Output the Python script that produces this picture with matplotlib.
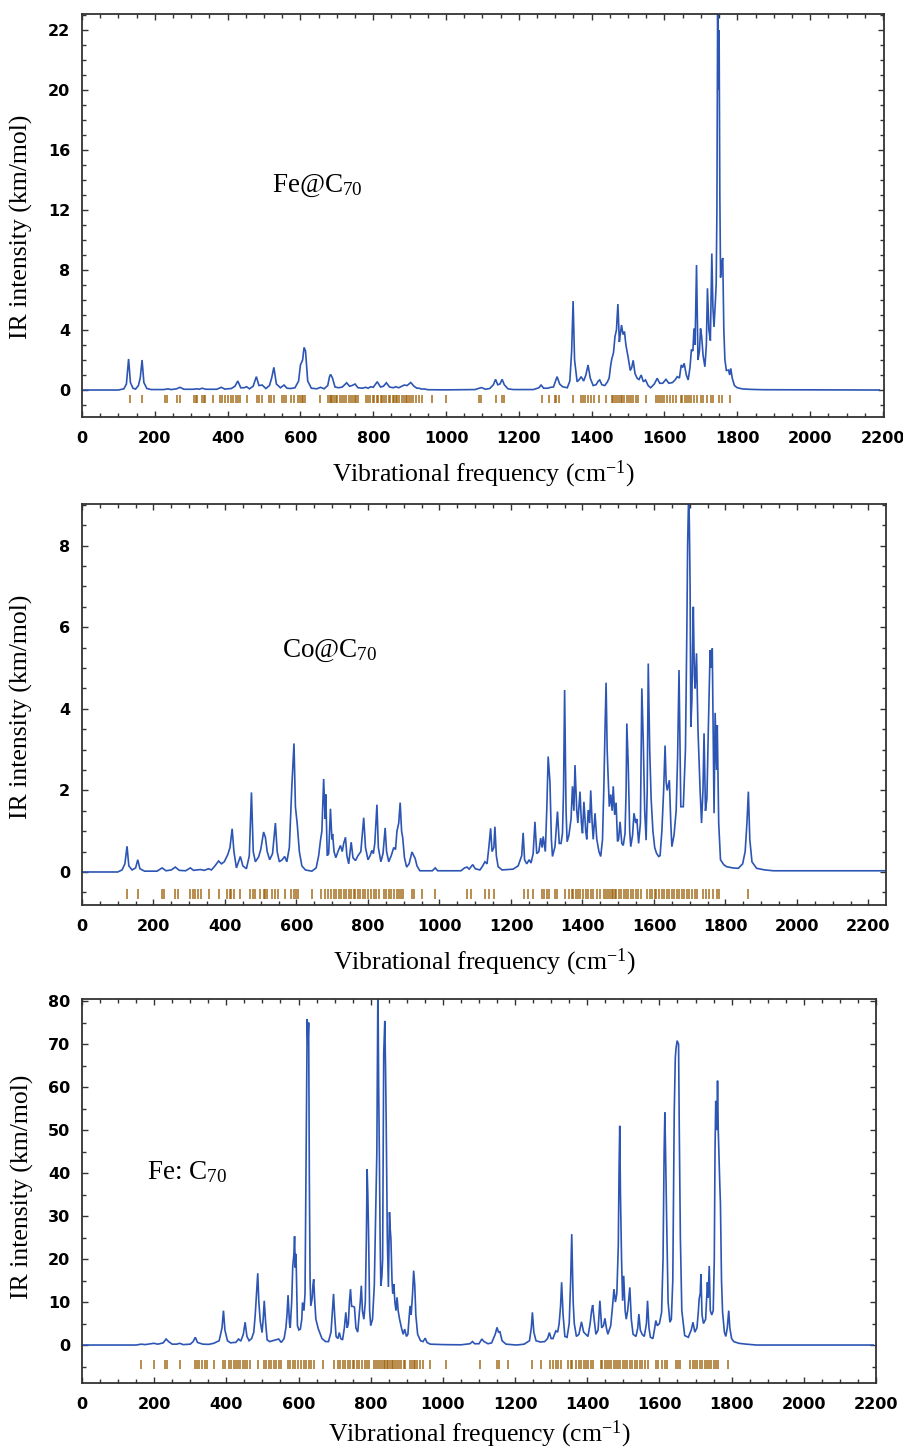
import matplotlib
matplotlib.use("Agg")
import matplotlib.pyplot as plt
from matplotlib.ticker import MultipleLocator, FixedLocator, FixedFormatter

plt.rcParams["mathtext.fontset"] = "custom"
plt.rcParams["mathtext.rm"] = "Liberation Serif"
plt.rcParams["mathtext.it"] = "Liberation Serif:italic"

# ---------- Fe@C70 : spectrum ----------
fe_freq = [0, 100, 115, 122, 128, 133, 140, 147, 155, 160, 165, 170, 178, 190, 225, 236, 245,
           260, 269, 280, 305, 316, 322, 330, 340, 370, 383, 392, 410, 420, 428, 436, 445, 452,
           460, 470, 479, 486, 495, 505, 515, 521, 527, 534, 545, 555, 563, 573, 585, 595, 600,
           606, 610, 614, 620, 630, 645, 655, 665, 675, 680, 683, 688, 695, 705, 715, 727, 735,
           742, 750, 758, 770, 779, 786, 793, 800, 811, 820, 828, 836, 845, 855, 862, 870, 878,
           885, 893, 903, 912, 920, 926, 933, 940, 950, 1000, 1080, 1091, 1098, 1108, 1120, 1130,
           1136, 1142, 1148, 1154, 1160, 1170, 1185, 1240, 1255, 1261, 1268, 1280, 1287, 1295,
           1305, 1312, 1320, 1333, 1340, 1345, 1349, 1353, 1360, 1366, 1371, 1378, 1384, 1390,
           1396, 1404, 1412, 1418, 1422, 1428, 1436, 1443, 1448, 1452, 1455, 1460, 1464, 1468,
           1472, 1476, 1479, 1482, 1486, 1490, 1494, 1500, 1506, 1510, 1514, 1519, 1525, 1530,
           1536, 1542, 1548, 1555, 1562, 1572, 1580, 1587, 1595, 1604, 1612, 1622, 1630, 1635,
           1641, 1646, 1650, 1654, 1660, 1665, 1670, 1674, 1678, 1681, 1684, 1688, 1692, 1696,
           1699, 1702, 1706, 1711, 1715, 1718, 1722, 1726, 1730, 1733, 1736, 1740, 1742, 1744,
           1746, 1748, 1750, 1752, 1754, 1757, 1760, 1763, 1766, 1770, 1776, 1779, 1782, 1786,
           1792, 1800, 1815, 1840, 1870, 2190]
fe_int = [0, 0, 0.08, 0.4, 2.07, 0.5, 0.12, 0.06, 0.3, 0.8, 2.0, 0.5, 0.1, 0.03, 0.03, 0.08, 0.03,
          0.08, 0.18, 0.05, 0.05, 0.08, 0.05, 0.12, 0.05, 0.05, 0.18, 0.06, 0.1, 0.25, 0.6, 0.15,
          0.15, 0.22, 0.08, 0.25, 0.89, 0.3, 0.33, 0.1, 0.3, 0.8, 1.51, 0.4, 0.15, 0.33, 0.12, 0.1,
          0.15, 0.6, 1.67, 2.0, 2.84, 2.6, 0.6, 0.12, 0.08, 0.18, 0.08, 0.3, 0.9, 1.04, 0.8, 0.2,
          0.15, 0.2, 0.48, 0.25, 0.3, 0.4, 0.15, 0.12, 0.18, 0.12, 0.22, 0.18, 0.55, 0.2, 0.25,
          0.48, 0.2, 0.15, 0.22, 0.15, 0.25, 0.33, 0.3, 0.5, 0.25, 0.12, 0.12, 0.06, 0.07, 0.02,
          0.01, 0.03, 0.12, 0.16, 0.05, 0.1, 0.35, 0.71, 0.35, 0.4, 0.71, 0.35, 0.08, 0.03, 0.03,
          0.15, 0.33, 0.12, 0.12, 0.18, 0.2, 0.89, 0.4, 0.22, 0.15, 0.6, 2.6, 5.93, 2.0, 0.55, 0.7,
          0.89, 0.6, 1.0, 1.67, 0.8, 0.3, 0.35, 0.6, 0.67, 0.35, 0.3, 0.53, 0.8, 1.6, 2.04, 2.5,
          3.56, 4.0, 5.73, 3.2, 3.8, 4.33, 3.7, 3.9, 3.0, 2.2, 1.3, 1.5, 1.98, 1.1, 0.78, 0.7, 1.0,
          0.55, 0.67, 0.3, 0.15, 0.4, 0.78, 0.45, 0.45, 0.71, 0.45, 0.5, 0.7, 0.89, 0.8, 1.67, 1.5,
          1.78, 1.0, 0.67, 1.5, 2.7, 2.6, 4.1, 3.0, 8.33, 2.0, 2.6, 4.1, 3.6, 2.3, 1.55, 3.0, 6.78,
          4.0, 3.3, 9.1, 5.5, 4.2, 6.0, 7.1, 12.0, 25.3, 20.0, 24.0, 13.0, 7.5, 8.5, 8.8, 4.0, 2.0,
          1.3, 1.33, 1.0, 1.44, 0.8, 0.3, 0.15, 0.07, 0.04, 0.02, 0.0]
fe_sticks = [131, 165, 229, 234, 261, 268, 307, 312, 316, 330, 335, 339, 359, 380, 385, 394, 402,
             408, 414, 422, 429, 433, 452, 481, 486, 495, 513, 518, 527, 550, 555, 559, 573, 582,
             594, 598, 603, 608, 612, 654, 677, 680, 684, 688, 692, 697, 701, 708, 713, 720, 726,
             733, 738, 744, 750, 754, 759, 779, 785, 790, 798, 802, 809, 814, 820, 825, 830, 836,
             842, 846, 853, 857, 862, 866, 871, 878, 885, 889, 894, 898, 903, 908, 917, 926, 935,
             962, 999, 1090, 1096, 1136, 1154, 1159, 1264, 1282, 1298, 1303, 1310, 1349, 1371,
             1377, 1383, 1390, 1397, 1406, 1420, 1438, 1455, 1459, 1464, 1470, 1475, 1480, 1484,
             1489, 1496, 1502, 1509, 1514, 1521, 1527, 1550, 1576, 1582, 1588, 1594, 1600, 1608,
             1615, 1622, 1631, 1645, 1649, 1656, 1661, 1667, 1674, 1681, 1690, 1699, 1707, 1718,
             1727, 1734, 1750, 1759, 1780]

# ---------- Co@C70 ----------
co_freq = [0, 100, 112, 120, 126, 131, 140, 150, 156, 162, 175, 210, 224, 235, 250, 261, 272, 290,
           303, 312, 331, 342, 354, 362, 372, 382, 390, 398, 408, 414, 420, 425, 432, 443, 450, 460,
           468, 474, 479, 485, 494, 500, 508, 513, 518, 525, 533, 541, 546, 552, 560, 567, 573, 580,
           587, 593, 597, 602, 608, 615, 625, 643, 655, 662, 667, 671, 676, 680, 682, 686, 690, 695,
           699, 701, 705, 710, 716, 723, 728, 732, 737, 741, 746, 753, 758, 765, 772, 780, 788, 793,
           800, 806, 811, 815, 819, 825, 829, 836, 842, 848, 852, 858, 865, 872, 877, 881, 886, 890,
           894, 897, 902, 908, 915, 923, 928, 932, 937, 945, 980, 988, 995, 1060, 1070, 1077, 1083,
           1093, 1100, 1113, 1121, 1127, 1133, 1138, 1143, 1147, 1152, 1155, 1159, 1164, 1175,
           1206, 1220, 1230, 1234, 1238, 1244, 1251, 1256, 1262, 1267, 1272, 1278, 1283, 1287,
           1290, 1296, 1300, 1304, 1309, 1313, 1316, 1323, 1330, 1335, 1340, 1344, 1347, 1350,
           1354, 1357, 1362, 1368, 1372, 1376, 1379, 1384, 1387, 1393, 1397, 1400, 1404, 1409,
           1412, 1416, 1420, 1423, 1427, 1430, 1435, 1440, 1446, 1451, 1456, 1460, 1463, 1466,
           1469, 1471, 1475, 1479, 1483, 1486, 1490, 1494, 1498, 1501, 1505, 1510, 1514, 1519,
           1522, 1524, 1528, 1532, 1535, 1540, 1544, 1549, 1552, 1557, 1562, 1566, 1570, 1574,
           1578, 1581, 1584, 1588, 1592, 1597, 1602, 1607, 1613, 1617, 1622, 1627, 1631, 1634,
           1637, 1643, 1647, 1650, 1656, 1662, 1666, 1670, 1675, 1682, 1688, 1692, 1694, 1697,
           1699, 1701, 1703, 1706, 1708, 1710, 1713, 1715, 1719, 1723, 1729, 1733, 1737, 1740,
           1744, 1748, 1752, 1757, 1760, 1763, 1766, 1768, 1771, 1775, 1777, 1781, 1786, 1795,
           1803, 1820, 1836, 1848, 1855, 1860, 1864, 1868, 1874, 1887, 1910, 1934, 2250]
co_int = [0, 0, 0.05, 0.2, 0.63, 0.15, 0.05, 0.1, 0.3, 0.08, 0.02, 0.02, 0.1, 0.03, 0.05, 0.12,
          0.04, 0.03, 0.1, 0.04, 0.06, 0.04, 0.08, 0.05, 0.15, 0.27, 0.2, 0.25, 0.43, 0.6, 1.06,
          0.5, 0.1, 0.38, 0.15, 0.08, 0.4, 1.95, 0.5, 0.25, 0.37, 0.55, 0.98, 0.85, 0.5, 0.3, 0.45,
          1.2, 0.5, 0.25, 0.3, 0.38, 0.25, 0.6, 2.1, 3.15, 1.6, 1.18, 0.5, 0.15, 0.05, 0.02, 0.1,
          0.4, 0.77, 1.0, 2.28, 1.3, 1.9, 0.4, 0.45, 1.55, 0.8, 0.93, 0.5, 0.35, 0.5, 0.65, 0.5,
          0.7, 0.85, 0.4, 0.2, 0.73, 0.35, 0.28, 0.4, 0.5, 1.33, 0.6, 0.3, 0.4, 0.53, 0.45, 0.7,
          1.65, 0.6, 0.25, 0.45, 1.08, 0.5, 0.25, 0.4, 0.6, 0.55, 1.0, 1.2, 1.7, 1.0, 0.85, 0.35,
          0.12, 0.2, 0.49, 0.4, 0.33, 0.15, 0.03, 0.03, 0.1, 0.03, 0.03, 0.1, 0.12, 0.07, 0.18,
          0.08, 0.05, 0.15, 0.25, 0.2, 0.6, 1.07, 0.5, 0.6, 1.11, 0.4, 0.13, 0.05, 0.07, 0.15, 0.4,
          0.96, 0.3, 0.2, 0.3, 0.22, 0.45, 1.23, 0.45, 0.5, 0.83, 0.6, 0.87, 0.5, 1.5, 2.83, 2.2,
          0.8, 0.38, 0.62, 1.48, 0.7, 0.7, 0.95, 2.0, 4.46, 1.5, 0.74, 0.9, 1.3, 2.1, 1.5, 2.62,
          1.5, 1.2, 1.97, 1.2, 0.95, 1.72, 1.0, 0.8, 1.52, 1.2, 2.0, 1.2, 0.8, 1.44, 0.8, 0.5, 0.38,
          0.8, 2.17, 3.5, 4.64, 3.0, 2.5, 1.6, 1.9, 1.5, 2.1, 1.4, 1.7, 0.75, 0.8, 1.23, 0.7, 0.65,
          0.95, 2.0, 3.64, 2.6, 1.0, 0.62, 0.9, 1.44, 1.2, 1.3, 0.7, 1.2, 4.5, 3.2, 1.5, 0.78, 2.0,
          5.11, 3.0, 1.8, 1.0, 0.6, 0.46, 0.38, 0.4, 1.0, 2.0, 3.1, 2.2, 2.0, 2.25, 1.2, 0.62, 0.9,
          1.5, 2.8, 4.95, 1.6, 1.6, 3.0, 6.0, 7.97, 9.3, 8.5, 7.0, 3.56, 4.2, 5.5, 6.5, 4.8, 4.5,
          5.36, 3.5, 2.0, 1.2, 2.0, 3.4, 1.5, 1.8, 3.5, 5.44, 5.0, 5.48, 3.0, 1.44, 3.9, 2.5, 3.6,
          1.2, 0.3, 0.18, 0.13, 0.1, 0.09, 0.2, 0.5, 1.2, 1.97, 0.8, 0.25, 0.09, 0.05, 0.03, 0.03]
co_sticks = [126, 156, 224, 230, 259, 268, 303, 310, 317, 324, 332, 354, 382, 407, 413, 418, 424,
             443, 471, 477, 485, 499, 508, 513, 517, 531, 541, 548, 567, 585, 592, 599, 604, 643,
             669, 679, 688, 697, 704, 710, 718, 725, 732, 738, 746, 753, 760, 764, 772, 778, 785,
             791, 800, 809, 816, 822, 830, 844, 850, 858, 865, 872, 881, 888, 893, 898, 923, 930,
             951, 988, 1077, 1089, 1127, 1139, 1152, 1236, 1248, 1262, 1286, 1292, 1300, 1306,
             1323, 1330, 1351, 1363, 1370, 1374, 1382, 1388, 1393, 1402, 1410, 1416, 1423, 1430,
             1440, 1449, 1460, 1466, 1470, 1477, 1482, 1486, 1491, 1495, 1503, 1509, 1516, 1522,
             1528, 1535, 1542, 1550, 1556, 1563, 1581, 1589, 1595, 1602, 1607, 1615, 1621, 1628,
             1635, 1643, 1649, 1656, 1663, 1671, 1677, 1684, 1691, 1699, 1706, 1715, 1721, 1738,
             1745, 1755, 1766, 1775, 1783, 1864]

# ---------- Fe: C70 ----------
fc_freq = [0, 150, 164, 175, 199, 210, 225, 233, 240, 250, 262, 271, 280, 300, 308, 314, 320, 335,
           351, 365, 380, 388, 392, 396, 403, 412, 420, 426, 434, 440, 447, 452, 457, 463, 470, 476,
           480, 485, 487, 490, 494, 499, 502, 505, 509, 513, 520, 528, 535, 540, 545, 552, 560, 565,
           568, 571, 575, 577, 581, 584, 587, 589, 591, 593, 597, 601, 605, 609, 611, 615, 618, 620,
           623, 624, 626, 628, 630, 632, 634, 638, 640, 642, 645, 648, 655, 665, 675, 683, 690, 694,
           697, 700, 704, 709, 713, 717, 722, 727, 731, 735, 738, 741, 744, 747, 751, 755, 759, 764,
           768, 771, 774, 777, 781, 785, 788, 790, 792, 794, 797, 800, 805, 810, 814, 817, 820, 822,
           824, 826, 828, 831, 833, 836, 839, 841, 843, 846, 849, 852, 854, 856, 859, 861, 864, 867,
           870, 873, 876, 880, 886, 890, 894, 899, 903, 906, 909, 912, 916, 919, 922, 925, 930, 938,
           945, 951, 956, 965, 1000, 1050, 1075, 1082, 1088, 1100, 1108, 1114, 1125, 1135, 1145,
           1150, 1154, 1158, 1164, 1175, 1204, 1225, 1240, 1245, 1248, 1252, 1258, 1270, 1282,
           1290, 1295, 1300, 1305, 1313, 1318, 1322, 1326, 1329, 1333, 1338, 1344, 1350, 1354,
           1357, 1361, 1364, 1370, 1377, 1384, 1390, 1396, 1402, 1408, 1412, 1415, 1419, 1424,
           1430, 1435, 1440, 1445, 1449, 1453, 1457, 1465, 1470, 1474, 1478, 1482, 1486, 1488,
           1490, 1492, 1495, 1498, 1501, 1505, 1508, 1512, 1518, 1522, 1527, 1535, 1540, 1543,
           1547, 1552, 1558, 1564, 1567, 1571, 1575, 1582, 1587, 1590, 1594, 1600, 1606, 1610,
           1613, 1615, 1617, 1620, 1624, 1629, 1633, 1637, 1641, 1644, 1646, 1649, 1653, 1655,
           1658, 1662, 1670, 1680, 1688, 1693, 1698, 1704, 1708, 1710, 1713, 1715, 1718, 1722,
           1728, 1733, 1735, 1738, 1741, 1745, 1749, 1752, 1754, 1756, 1759, 1761, 1763, 1765,
           1767, 1769, 1772, 1775, 1780, 1784, 1788, 1792, 1795, 1800, 1806, 1820, 1841, 1869, 2192]
fc_int = [0, 0, 0.2, 0.1, 0.4, 0.2, 0.5, 1.4, 0.8, 0.2, 0.2, 0.4, 0.1, 0.2, 0.8, 1.8, 0.6, 0.2,
          0.15, 0.4, 1.0, 4.0, 8.0, 3.5, 1.0, 0.5, 0.6, 0.6, 1.4, 0.9, 2.5, 5.3, 2.0, 1.0, 1.5, 3.0,
          7.0, 14.0, 16.7, 10.0, 5.5, 2.9, 6.0, 10.3, 5.0, 1.2, 0.8, 1.0, 1.2, 1.3, 1.4, 0.6, 1.5,
          4.0, 7.0, 11.6, 5.0, 4.0, 10.0, 18.4, 21.0, 25.3, 18.0, 21.2, 4.5, 3.5, 3.7, 6.0, 9.9,
          8.0, 12.0, 34.0, 66.0, 75.8, 70.0, 75.0, 38.0, 15.0, 9.1, 11.0, 14.0, 15.3, 10.0, 6.0,
          3.7, 1.5, 0.8, 0.8, 3.0, 8.0, 11.9, 7.0, 2.0, 1.5, 2.9, 1.5, 1.2, 4.0, 7.6, 4.0, 5.0,
          10.0, 13.0, 9.0, 9.0, 8.8, 4.0, 3.0, 7.0, 10.0, 13.8, 8.0, 6.0, 10.0, 25.0, 40.9, 35.0,
          26.2, 8.0, 4.5, 6.0, 14.0, 32.0, 45.0, 85.0, 60.0, 44.4, 25.0, 13.8, 16.0, 20.0, 67.7,
          75.4, 65.0, 51.0, 25.0, 13.5, 30.9, 27.0, 24.7, 15.0, 12.0, 14.2, 10.0, 8.0, 11.1, 8.0,
          6.0, 3.7, 2.5, 3.7, 2.0, 2.5, 6.0, 9.1, 7.0, 12.0, 17.3, 14.0, 7.0, 2.5, 1.0, 0.8, 1.6,
          0.6, 0.2, 0.1, 0.05, 0.3, 0.8, 0.3, 0.3, 1.4, 0.8, 0.3, 0.5, 2.5, 4.1, 3.0, 3.1, 1.0, 0.2,
          0.0, 0.2, 1.0, 4.0, 7.6, 3.0, 1.0, 0.7, 0.8, 1.5, 2.9, 1.5, 1.5, 3.3, 3.0, 4.9, 9.0, 14.6,
          7.0, 2.0, 1.8, 5.0, 15.0, 25.8, 10.0, 5.0, 2.0, 2.5, 5.4, 3.0, 2.5, 2.0, 5.0, 8.0, 9.3,
          6.0, 2.5, 3.5, 10.3, 4.0, 4.5, 6.2, 4.0, 2.5, 4.5, 9.0, 13.0, 10.0, 12.0, 23.1, 40.0,
          51.0, 35.0, 20.0, 10.3, 16.1, 8.0, 6.0, 8.0, 13.4, 6.0, 2.5, 2.0, 4.0, 7.2, 3.5, 2.5,
          2.0, 5.0, 10.3, 4.0, 1.8, 1.5, 4.0, 5.7, 4.5, 5.0, 7.6, 20.0, 45.0, 54.1, 45.0, 29.0,
          10.0, 5.3, 6.0, 15.0, 54.1, 66.9, 69.0, 70.8, 70.0, 50.0, 25.0, 8.0, 2.2, 1.8, 3.5, 5.3,
          3.0, 4.0, 8.0, 10.7, 12.0, 16.5, 7.0, 5.0, 6.0, 14.6, 11.0, 18.4, 8.0, 7.0, 8.0, 20.0,
          45.0, 56.8, 50.0, 61.5, 50.0, 44.0, 38.0, 33.0, 15.0, 7.6, 3.0, 2.0, 4.0, 8.0, 4.0, 1.5,
          0.8, 0.4, 0.2, 0.0, 0.0]
fc_sticks = [164, 199, 231, 235, 272, 312, 319, 325, 332, 340, 346, 367, 392, 397, 406, 414, 420,
             427, 432, 439, 445, 452, 457, 466, 489, 503, 510, 517, 524, 531, 537, 545, 552, 571,
             577, 584, 591, 598, 606, 614, 620, 628, 635, 642, 669, 697, 709, 716, 722, 729, 737,
             743, 750, 755, 762, 768, 776, 783, 789, 796, 808, 814, 820, 826, 831, 836, 840, 845,
             849, 854, 859, 863, 868, 873, 877, 885, 891, 896, 909, 914, 919, 923, 928, 937, 946,
             965, 1008, 1103, 1150, 1156, 1181, 1248, 1271, 1298, 1306, 1313, 1319, 1326, 1347,
             1354, 1359, 1368, 1378, 1384, 1391, 1396, 1403, 1409, 1416, 1437, 1442, 1449, 1455,
             1461, 1467, 1474, 1479, 1486, 1492, 1498, 1504, 1511, 1518, 1525, 1532, 1538, 1546,
             1553, 1560, 1569, 1590, 1596, 1606, 1615, 1621, 1645, 1652, 1658, 1684, 1692, 1698,
             1704, 1712, 1719, 1726, 1732, 1738, 1744, 1751, 1756, 1763, 1790]

line_color = "#2c55b4"
stick_color = "#9a5c00"
serif = "Liberation Serif"

fig = plt.figure(figsize=(9.04, 14.52), dpi=100)

panels = [
    # rect, freq, intensity, sticks, stick span, xlim, ylim, label, label pos, xlabelpad, ylabel y
    ([0.0907, 0.7128, 0.8872, 0.2776], fe_freq, fe_int, fe_sticks, (-0.87, -0.33),
     (0, 2203), (-1.8, 25.07), r"Fe@C$_{70}$", (522, 13.2), 9, 0.471),
    ([0.0907, 0.3767, 0.8894, 0.2762], co_freq, co_int, co_sticks, (-0.66, -0.42),
     (0, 2249), (-0.81, 9.02), r"Co@C$_{70}$", (559, 5.27), 9, 0.494),
    ([0.0907, 0.0475, 0.8783, 0.2645], fc_freq, fc_int, fc_sticks, (-5.6, -3.5),
     (0, 2200), (-8.84, 80.5), r"Fe: C$_{70}$", (180, 38.5), 5, 0.51),
]

axes = []
for rect, fx, fy, st, span, xl, yl, lab, lpos, xpad, ly in panels:
    ax = fig.add_axes(rect)
    ax.plot(fx, fy, color=line_color, lw=1.2, solid_joinstyle="miter")
    ax.vlines(st, span[0], span[1], color=stick_color, lw=1.3, alpha=0.75)
    ax.set_xlim(*xl)
    ax.set_ylim(*yl)
    ax.xaxis.set_major_locator(MultipleLocator(200))
    ax.xaxis.set_minor_locator(MultipleLocator(50))
    ax.text(lpos[0], lpos[1], lab, fontsize=19.5, family=serif, va="baseline", ha="left")
    ax.set_xlabel(r"Vibrational frequency (cm$^{\mathregular{-1}}$)", fontsize=18.5,
                  family=serif, labelpad=xpad)
    ax.set_ylabel("IR intensity (km/mol)", fontsize=18.5, family=serif)
    ax.yaxis.set_label_coords(-0.061, ly)
    ax.tick_params(which="both", direction="in", top=True, right=True, width=1,
                   color="#333333", labelsize=11.5)
    ax.tick_params(axis="x", which="both", pad=10)
    ax.tick_params(axis="y", which="both", pad=8.5)
    ax.tick_params(which="major", length=4.5)
    ax.tick_params(which="minor", length=3)
    for s in ax.spines.values():
        s.set_linewidth(1.3)
        s.set_color("#333333")
    axes.append(ax)

# top panel: tick labels as printed
axes[0].yaxis.set_major_locator(FixedLocator([0, 4, 8, 12, 16, 20, 24]))
axes[0].yaxis.set_major_formatter(FixedFormatter(["0", "4", "8", "12", "16", "20", "22"]))
axes[0].yaxis.set_minor_locator(MultipleLocator(1))
axes[1].yaxis.set_major_locator(MultipleLocator(2))
axes[1].yaxis.set_minor_locator(MultipleLocator(0.5))
axes[2].yaxis.set_major_locator(MultipleLocator(10))
axes[2].yaxis.set_minor_locator(MultipleLocator(5))

for ax in axes:
    for lbl in ax.get_xticklabels() + ax.get_yticklabels():
        lbl.set_fontweight("bold")

fig.savefig("out.png", dpi=100)
